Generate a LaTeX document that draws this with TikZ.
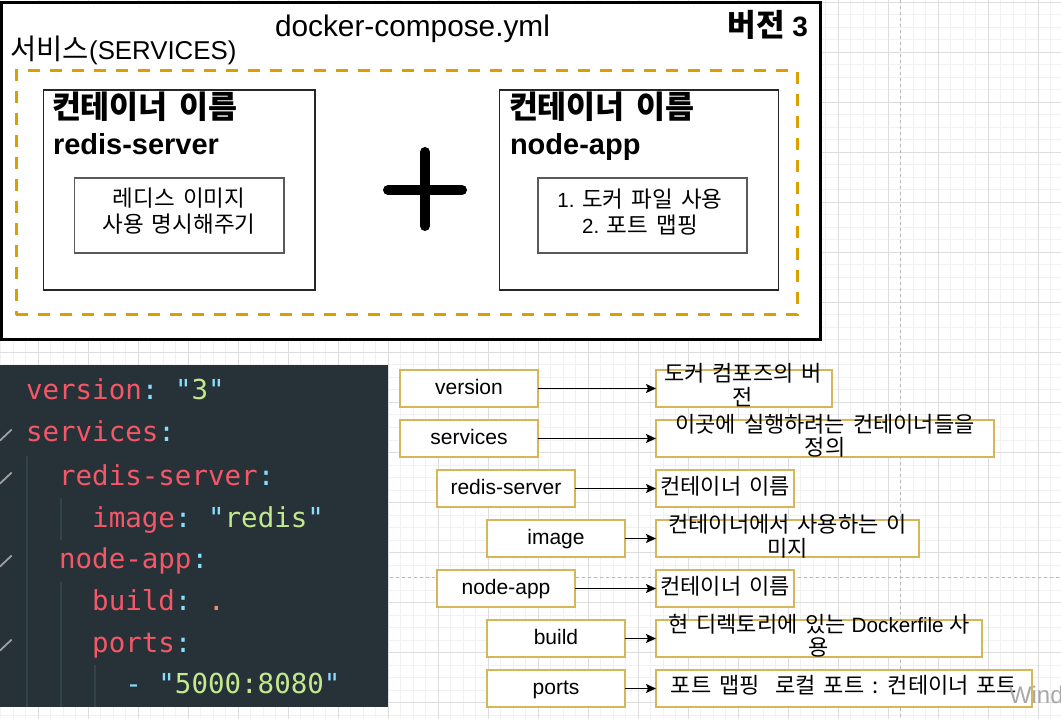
\documentclass[tikz,border=0pt]{standalone}
\usepackage{fontspec}
\setmainfont{Liberation Sans}
\newfontfamily\kr[WordSpace=1.0]{Noto Sans CJK KR}
\newfontfamily\krw[WordSpace=1.2]{Noto Sans CJK KR}
\newfontfamily\krv[WordSpace=1.6]{Noto Sans CJK KR}
\newfontfamily\mono{DejaVu Sans Mono}
\usetikzlibrary{arrows.meta}
\newcommand\fsz[1]{\fontsize{#1pt}{#1pt}\selectfont}
\newcommand\KV[1]{{\krv\fsz{22}#1}}
\newcommand\msp{\phantom{x}}
\definecolor{gridminor}{HTML}{F1F1F1}
\definecolor{gridmajor}{HTML}{DDDDDD}
\definecolor{pagebrk}{HTML}{B8B8B8}
\definecolor{dashorange}{HTML}{D9A000}
\definecolor{boxgold}{HTML}{D6B656}
\definecolor{codebg}{HTML}{263238}
\definecolor{codeguide}{HTML}{33434B}
\definecolor{ykey}{HTML}{F55768}
\definecolor{ypunc}{HTML}{89DDFF}
\definecolor{ystr}{HTML}{C3E88D}
\definecolor{ynum}{HTML}{F78C6C}
\definecolor{foldgray}{HTML}{A0A0A0}
\definecolor{wmark}{HTML}{A8A8A8}
\begin{document}
\begin{tikzpicture}[x=1pt,y=-1pt,
  every node/.style={inner sep=0pt, outer sep=0pt},
  txt/.style={anchor=base west},
  ctxt/.style={anchor=base},
  keybox/.style={draw=boxgold, line width=2.5pt, fill=white, minimum width=138pt,
    minimum height=37pt, font=\fsz{21}, text height=16pt, text depth=4pt},
  valbox/.style={draw=boxgold, line width=2.5pt, fill=white, minimum height=37pt},
  arr/.style={line width=1.3pt, -{Stealth[length=10pt,width=9pt,inset=2pt]}},
  codetxt/.style={anchor=base west, font=\mono\fsz{27.5}},
  guide/.style={draw=codeguide, line width=1.5pt},
  fold/.style={draw=foldgray, line width=1.8pt},
  contbox/.style={draw=black!85, line width=1.2pt, fill=white, anchor=north west, minimum height=200pt},
  innerbox/.style={draw=black!65, line width=1.4pt, fill=white, anchor=north west, minimum height=75pt}
]
\useasboundingbox (0,0) rectangle (1061,719);
\fill[white] (0,0) rectangle (1061,719);
% grid
\foreach \i in {0,...,86} \draw[gridminor, line width=1pt] ({-11.7+12.5*\i},0) -- ({-11.7+12.5*\i},719);
\foreach \j in {0,...,57} \draw[gridminor, line width=1pt] (0,{2.5+12.5*\j}) -- (1061,{2.5+12.5*\j});
\foreach \i in {0,...,21} \draw[gridmajor, line width=1pt] ({-11.7+50*\i},0) -- ({-11.7+50*\i},719);
\foreach \j in {0,...,14} \draw[gridmajor, line width=1pt] (0,{2.5+50*\j}) -- (1061,{2.5+50*\j});
\draw[pagebrk, line width=1pt, dash pattern=on 3pt off 3pt] (900,0) -- (900,719);
\draw[pagebrk, line width=1pt, dash pattern=on 3pt off 3pt] (0,577) -- (1061,577);

% top diagram
\node[draw=black, line width=3pt, fill=white, anchor=north west, minimum width=818.5pt, minimum height=336.5pt] (yml) at (1.5,3) {};
\node[ctxt, font=\fsz{29.8}] (title) at (412.5,37) {docker-compose.yml};
\node[anchor=base east, font=\fsz{28}\bfseries] (ver) at (808,37) {{\kr\bfseries\fsz{31}버전} 3};
\node[txt, font=\fsz{25.8}] (svc) at (10.5,60) {{\kr\fsz{28.5}서비스}(SERVICES)};
\node[draw=dashorange, line width=3pt, dash pattern=on 12pt off 10pt, anchor=north west, minimum width=781pt, minimum height=244pt] (services) at (16,71) {};

\node[contbox, minimum width=271.5pt] (redisbox) at (43.5,90) {};
\node[txt] (rname) at (52,119) {{\kr\bfseries\fsz{31.5}컨테이너 이름}};
\node[txt, font=\fsz{29}\bfseries] (rid) at (53,155) {redis-server};
\node[innerbox, minimum width=209.5pt] (rinner) at (74.5,178) {};
\node[ctxt] (rin1) at (179,207) {{\krw\fsz{22.5}레디스 이미지}};
\node[ctxt] (rin2) at (179,233) {{\krw\fsz{22.5}사용 명시해주기}};

\coordinate (plusc) at (425,190);
\draw[line width=10pt, line cap=round] (plusc) ++(-37,0) -- ++(74,0);
\draw[line width=10pt, line cap=round] (plusc) ++(0,-38) -- ++(0,74);

\node[contbox, minimum width=279pt] (nodebox) at (499.5,90) {};
\node[txt] (nname) at (509,119) {{\kr\bfseries\fsz{31.5}컨테이너 이름}};
\node[txt, font=\fsz{29}\bfseries] (nid) at (510,155) {node-app};
\node[innerbox, minimum width=209pt] (ninner) at (538,178) {};
\node[ctxt, font=\fsz{20.5}] (nin1) at (640,208) {1. {\krw\fsz{22.5}도커 파일 사용}};
\node[ctxt, font=\fsz{20.5}] (nin2) at (640,233.5) {2. {\krw\fsz{22.5}포트 맵핑}};

% code panel
\node[fill=codebg, anchor=north west, minimum width=387.5pt, minimum height=342pt] (code) at (0,365) {};
\draw[guide] (27,456) -- (27,707);
\draw[guide] (61,498) -- (61,540);
\draw[guide] (61,582) -- (61,707);
\draw[guide] (95,665) -- (95,707);
\foreach \b in {442,485,568,652} \draw[fold] (0,\b-1.5) -- (11.7,\b-12.5);
\node[codetxt] (c1) at (26,400) {\color{ykey}version\color{ypunc}:\msp"\color{ystr}3\color{ypunc}"};
\node[codetxt] (c2) at (26,442) {\color{ykey}services\color{ypunc}:};
\node[codetxt] (c3) at (59.1,485) {\color{ykey}redis-server\color{ypunc}:};
\node[codetxt] (c4) at (92.2,527) {\color{ykey}image\color{ypunc}:\msp"\color{ystr}redis\color{ypunc}"};
\node[codetxt] (c5) at (59.1,568) {\color{ykey}node-app\color{ypunc}:};
\node[codetxt] (c6) at (92.2,610) {\color{ykey}build\color{ypunc}:\msp\color{ynum}.};
\node[codetxt] (c7) at (92.2,652) {\color{ykey}ports\color{ypunc}:};
\node[codetxt] (c8) at (125.3,693) {\color{ypunc}-\msp"\color{ystr}5000:8080\color{ypunc}"};

% key boxes
\node[keybox] (k1) at (469,388.5) {version};
\node[keybox] (k2) at (469,438.5) {services};
\node[keybox] (k3) at (506,488.5) {redis-server};
\node[keybox] (k4) at (556,538.5) {image};
\node[keybox] (k5) at (506,588.5) {node-app};
\node[keybox] (k6) at (556,638.5) {build};
\node[keybox] (k7) at (556,688.5) {ports};

% value boxes
\node[valbox, minimum width=176pt] (v1) at (744,388.5) {};
\node[valbox, minimum width=338pt] (v2) at (825,438.5) {};
\node[valbox, minimum width=138pt] (v3) at (725,488.5) {};
\node[valbox, minimum width=263pt] (v4) at (787.5,538.5) {};
\node[valbox, minimum width=138pt] (v5) at (725,588.5) {};
\node[valbox, minimum width=326pt] (v6) at (819,638.5) {};
\node[valbox, minimum width=376pt] (v7) at (844,688.5) {};

\foreach \n in {1,...,7} \draw[arr] (k\n.east) -- (v\n.west);

\node[ctxt] (v1a) at (743,382) {\KV{도커 컴포즈의 버}};
\node[ctxt] (v1b) at (743,406) {\KV{전}};
\node[ctxt] (v2a) at (825,432) {\KV{이곳에 실행하려는 컨테이너들을}};
\node[ctxt] (v2b) at (825,456) {\KV{정의}};
\node[ctxt] (v3t) at (725,494) {\KV{컨테이너 이름}};
\node[ctxt] (v4a) at (787.5,532) {\KV{컨테이너에서 사용하는 이}};
\node[ctxt] (v4b) at (787.5,556) {\KV{미지}};
\node[ctxt] (v5t) at (725,594) {\KV{컨테이너 이름}};
\node[ctxt, font=\fsz{20.7}] (v6a) at (819,632) {\KV{현 디렉토리에 있는} Dockerfile \KV{사}};
\node[ctxt] (v6b) at (819,655) {\KV{용}};
\node[ctxt] (v7t) at (844,693) {\KV{포트 맵핑\ \ 로컬 포트 : 컨테이너 포트}};

% watermark
\node[txt, font=\fsz{24}, text=wmark] (wm) at (1009,703) {Windows};
\end{tikzpicture}
\end{document}
